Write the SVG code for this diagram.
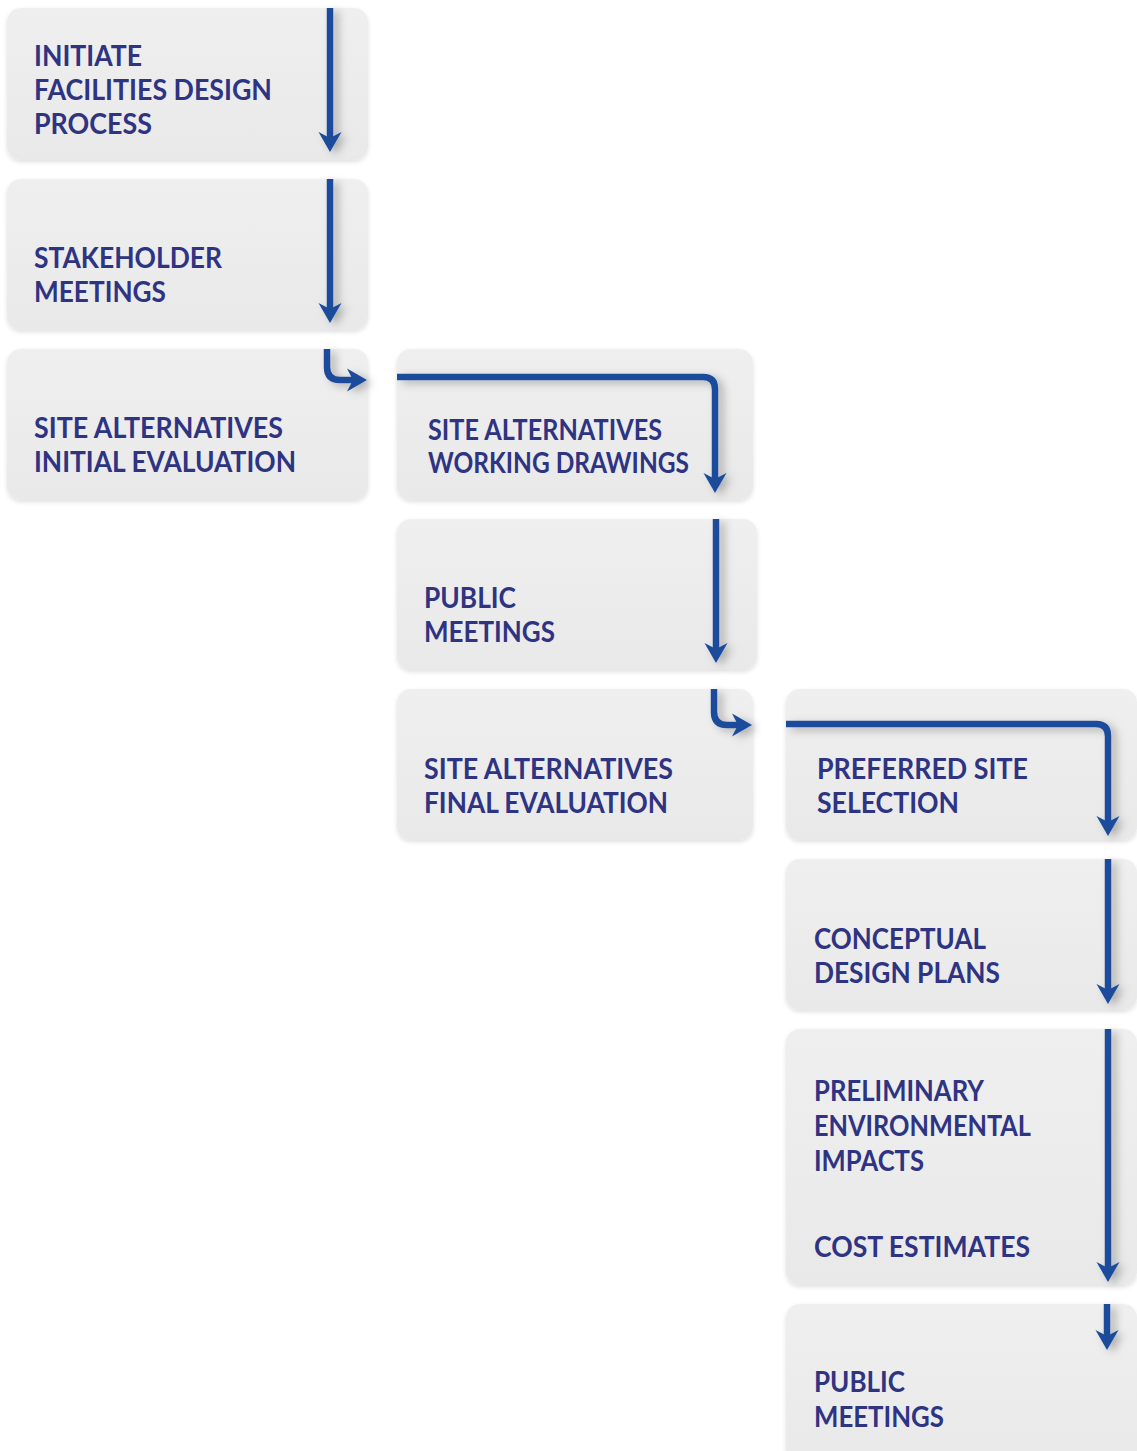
<svg xmlns="http://www.w3.org/2000/svg" width="1137" height="1451" viewBox="0 0 1137 1451">
<defs>
<linearGradient id="bg" x1="0" y1="0" x2="0" y2="1">
<stop offset="0" stop-color="#efefef"/>
<stop offset="1" stop-color="#e9e9ea"/>
</linearGradient>
<filter id="bs" x="-5%" y="-10%" width="110%" height="125%">
<feDropShadow dx="0" dy="2" stdDeviation="2" flood-color="#000" flood-opacity="0.12"/>
</filter>
<filter id="as" x="-50%" y="-10%" width="200%" height="120%">
<feDropShadow dx="5" dy="3" stdDeviation="4" flood-color="#000" flood-opacity="0.28"/>
</filter>
<marker id="ah" markerUnits="userSpaceOnUse" markerWidth="32" markerHeight="32" viewBox="-16 -16 32 32" refX="0" refY="0" orient="auto">
<path d="M11,0 L-9,-11.5 L-3,0 L-9,11.5 Z" fill="#1b4c9c"/>
</marker>
</defs>
<style>
.box{fill:url(#bg);filter:url(#bs)}
.t{font-family:Lato,"Open Sans","Liberation Sans",sans-serif;font-weight:700;font-size:28px;fill:#2e3382}
.a{fill:none;stroke:#1b4c9c;stroke-width:6.5;marker-end:url(#ah)}
</style>
<rect width="1137" height="1451" fill="#ffffff"/>
<g id="n1"><rect class="box" x="7" y="8" width="361" height="152" rx="14"/>
<text class="t"><tspan x="34" y="66" textLength="108" lengthAdjust="spacingAndGlyphs">INITIATE</tspan><tspan x="34" y="100" textLength="238" lengthAdjust="spacingAndGlyphs">FACILITIES DESIGN</tspan><tspan x="34" y="134" textLength="118" lengthAdjust="spacingAndGlyphs">PROCESS</tspan></text></g>
<g id="n2"><rect class="box" x="7" y="179" width="361" height="151" rx="14"/>
<text class="t"><tspan x="34" y="268" textLength="188" lengthAdjust="spacingAndGlyphs">STAKEHOLDER</tspan><tspan x="34" y="302" textLength="132" lengthAdjust="spacingAndGlyphs">MEETINGS</tspan></text></g>
<g id="n3"><rect class="box" x="7" y="349" width="361" height="151" rx="14"/>
<text class="t"><tspan x="34" y="438" textLength="249" lengthAdjust="spacingAndGlyphs">SITE ALTERNATIVES</tspan><tspan x="34" y="472" textLength="262" lengthAdjust="spacingAndGlyphs">INITIAL EVALUATION</tspan></text></g>
<g id="n4"><rect class="box" x="397" y="349" width="356" height="151" rx="14"/>
<text class="t"><tspan x="428" y="440" textLength="234" lengthAdjust="spacingAndGlyphs">SITE ALTERNATIVES</tspan><tspan x="428" y="473" textLength="261" lengthAdjust="spacingAndGlyphs">WORKING DRAWINGS</tspan></text></g>
<g id="n5"><rect class="box" x="397" y="519" width="360" height="151" rx="14"/>
<text class="t"><tspan x="424" y="608" textLength="92" lengthAdjust="spacingAndGlyphs">PUBLIC</tspan><tspan x="424" y="642" textLength="131" lengthAdjust="spacingAndGlyphs">MEETINGS</tspan></text></g>
<g id="n6"><rect class="box" x="397" y="689" width="356" height="151" rx="14"/>
<text class="t"><tspan x="424" y="779" textLength="249" lengthAdjust="spacingAndGlyphs">SITE ALTERNATIVES</tspan><tspan x="424" y="813" textLength="244" lengthAdjust="spacingAndGlyphs">FINAL EVALUATION</tspan></text></g>
<g id="n7"><rect class="box" x="786" y="689" width="351" height="151" rx="14"/>
<text class="t"><tspan x="817" y="779" textLength="211" lengthAdjust="spacingAndGlyphs">PREFERRED SITE</tspan><tspan x="817" y="813" textLength="142" lengthAdjust="spacingAndGlyphs">SELECTION</tspan></text></g>
<g id="n8"><rect class="box" x="786" y="859" width="351" height="151" rx="14"/>
<text class="t"><tspan x="814" y="949" textLength="172" lengthAdjust="spacingAndGlyphs">CONCEPTUAL</tspan><tspan x="814" y="983" textLength="186" lengthAdjust="spacingAndGlyphs">DESIGN PLANS</tspan></text></g>
<g id="n9"><rect class="box" x="786" y="1029" width="351" height="256" rx="14"/>
<text class="t"><tspan x="814" y="1101" textLength="170" lengthAdjust="spacingAndGlyphs">PRELIMINARY</tspan><tspan x="814" y="1136" textLength="217" lengthAdjust="spacingAndGlyphs">ENVIRONMENTAL</tspan><tspan x="814" y="1171" textLength="110" lengthAdjust="spacingAndGlyphs">IMPACTS</tspan><tspan x="814" y="1257" textLength="216" lengthAdjust="spacingAndGlyphs">COST ESTIMATES</tspan></text></g>
<g id="n10"><rect class="box" x="786" y="1304" width="351" height="160" rx="14"/>
<text class="t"><tspan x="814" y="1392" textLength="91" lengthAdjust="spacingAndGlyphs">PUBLIC</tspan><tspan x="814" y="1427" textLength="130" lengthAdjust="spacingAndGlyphs">MEETINGS</tspan></text></g>
<g id="connectors" filter="url(#as)">
<path class="a" d="M330,8 V141"/>
<path class="a" d="M330,179 V312"/>
<path class="a" d="M327,349 V367 Q327,380 340,380 H356"/>
<path class="a" d="M397,377 H703 Q715,377 715,389 V482"/>
<path class="a" d="M716,519 V652"/>
<path class="a" d="M714,689 V712 Q714,725 727,725 H741"/>
<path class="a" d="M786,724 H1096 Q1108,724 1108,736 V825"/>
<path class="a" d="M1108,859 V993"/>
<path class="a" d="M1108,1029 V1271"/>
<path class="a" d="M1107,1304 V1339"/>
</g>
</svg>
